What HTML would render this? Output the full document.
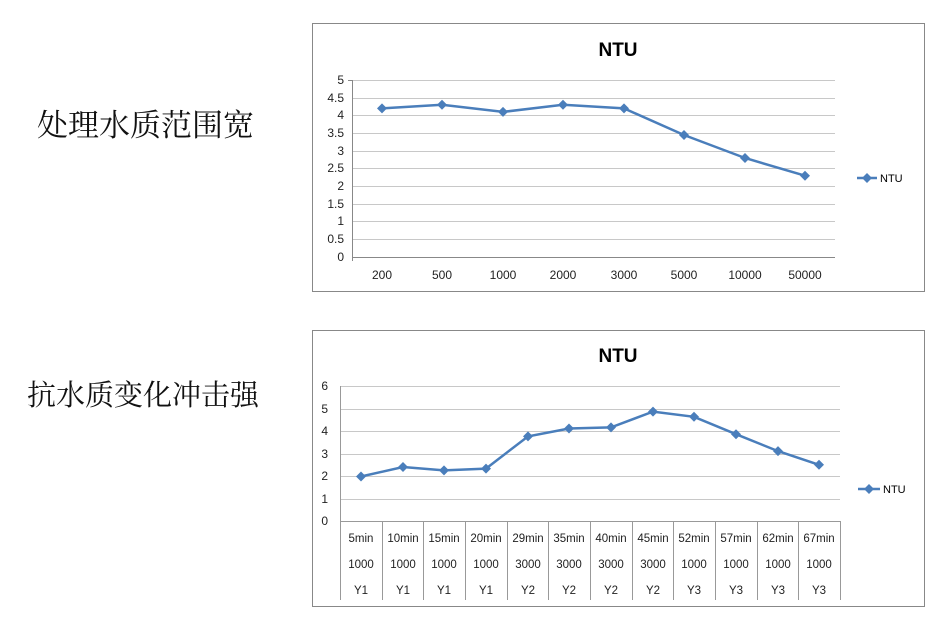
<!DOCTYPE html>
<html><head><meta charset="utf-8"><style>
body{margin:0;background:#fff;width:940px;height:620px;overflow:hidden;position:relative;font-family:"Liberation Sans","Noto Sans CJK SC",sans-serif}
.cn{position:absolute;font-family:"Noto Serif CJK SC","Noto Sans CJK SC",serif;color:#111;white-space:nowrap}
</style></head><body>
<div class="cn" style="left:37px;top:100px;font-size:31px">处理水质范围宽</div>
<div class="cn" style="left:27px;top:373px;font-size:29px">抗水质变化冲击强</div>
<svg width="940" height="620" style="position:absolute;left:0;top:0" font-family="Liberation Sans, sans-serif">
<defs><path id="d" d="M0,-5 L5,0 L0,5 L-5,0Z" fill="#4a7ebb"/></defs>
<rect x="312.5" y="23.5" width="612" height="268" fill="#fff" stroke="#888"/>
<text x="618" y="56" font-size="19" font-weight="bold" text-anchor="middle">NTU</text>
<g stroke="#c8c8c8" stroke-width="1">
<line x1="352" x2="835" y1="80.5" y2="80.5"/><line x1="352" x2="835" y1="98.5" y2="98.5"/><line x1="352" x2="835" y1="115.5" y2="115.5"/><line x1="352" x2="835" y1="133.5" y2="133.5"/><line x1="352" x2="835" y1="151.5" y2="151.5"/><line x1="352" x2="835" y1="168.5" y2="168.5"/><line x1="352" x2="835" y1="186.5" y2="186.5"/><line x1="352" x2="835" y1="204.5" y2="204.5"/><line x1="352" x2="835" y1="221.5" y2="221.5"/><line x1="352" x2="835" y1="239.5" y2="239.5"/>
</g>
<g stroke="#888"><line x1="352" x2="835" y1="257.5" y2="257.5"/><line x1="352.5" x2="352.5" y1="80" y2="261"/>
<line x1="348" x2="352" y1="80.5" y2="80.5"/>
</g>
<g font-size="12" text-anchor="end" fill="#222">
<text x="344" y="84">5</text><text x="344" y="102">4.5</text><text x="344" y="119">4</text><text x="344" y="137">3.5</text><text x="344" y="155">3</text><text x="344" y="172">2.5</text><text x="344" y="190">2</text><text x="344" y="208">1.5</text><text x="344" y="225">1</text><text x="344" y="243">0.5</text><text x="344" y="261">0</text>
</g>
<g font-size="12" text-anchor="middle" fill="#222">
<text x="382" y="279">200</text><text x="442" y="279">500</text><text x="503" y="279">1000</text><text x="563" y="279">2000</text><text x="624" y="279">3000</text><text x="684" y="279">5000</text><text x="745" y="279">10000</text><text x="805" y="279">50000</text>
</g>
<polyline fill="none" stroke="#4a7ebb" stroke-width="2.5" points="382,108.4 442,104.8 503,111.9 563,104.8 624,108.4 684,135 745,158 805,175.7"/>
<g><use href="#d" x="382" y="108.4"/><use href="#d" x="442" y="104.8"/><use href="#d" x="503" y="111.9"/><use href="#d" x="563" y="104.8"/><use href="#d" x="624" y="108.4"/><use href="#d" x="684" y="135"/><use href="#d" x="745" y="158"/><use href="#d" x="805" y="175.7"/></g>
<line x1="857" x2="877" y1="178" y2="178" stroke="#4a7ebb" stroke-width="2.5"/><use href="#d" x="867" y="178"/>
<text x="880" y="182" font-size="11">NTU</text>
<rect x="312.5" y="330.5" width="612" height="276" fill="#fff" stroke="#888"/>
<text x="618" y="362" font-size="19" font-weight="bold" text-anchor="middle">NTU</text>
<g stroke="#c8c8c8">
<line x1="340" x2="840" y1="386.5" y2="386.5"/><line x1="340" x2="840" y1="409.5" y2="409.5"/><line x1="340" x2="840" y1="431.5" y2="431.5"/><line x1="340" x2="840" y1="454.5" y2="454.5"/><line x1="340" x2="840" y1="476.5" y2="476.5"/><line x1="340" x2="840" y1="499.5" y2="499.5"/>
</g>
<g stroke="#999"><line x1="340" x2="840" y1="521.5" y2="521.5"/><line x1="340.5" x2="340.5" y1="386" y2="600"/>
<line x1="382.5" x2="382.5" y1="521" y2="600"/><line x1="423.5" x2="423.5" y1="521" y2="600"/><line x1="465.5" x2="465.5" y1="521" y2="600"/><line x1="507.5" x2="507.5" y1="521" y2="600"/><line x1="548.5" x2="548.5" y1="521" y2="600"/><line x1="590.5" x2="590.5" y1="521" y2="600"/><line x1="632.5" x2="632.5" y1="521" y2="600"/><line x1="673.5" x2="673.5" y1="521" y2="600"/><line x1="715.5" x2="715.5" y1="521" y2="600"/><line x1="757.5" x2="757.5" y1="521" y2="600"/><line x1="798.5" x2="798.5" y1="521" y2="600"/><line x1="840.5" x2="840.5" y1="521" y2="600"/>
</g>
<g font-size="12" text-anchor="end" fill="#222">
<text x="328" y="390">6</text><text x="328" y="413">5</text><text x="328" y="435">4</text><text x="328" y="458">3</text><text x="328" y="480">2</text><text x="328" y="503">1</text><text x="328" y="525">0</text>
</g>
<g font-size="11.5" text-anchor="middle" fill="#222">
<text y="542"><tspan x="361">5min</tspan><tspan x="403">10min</tspan><tspan x="444">15min</tspan><tspan x="486">20min</tspan><tspan x="528">29min</tspan><tspan x="569">35min</tspan><tspan x="611">40min</tspan><tspan x="653">45min</tspan><tspan x="694">52min</tspan><tspan x="736">57min</tspan><tspan x="778">62min</tspan><tspan x="819">67min</tspan></text>
<text y="568"><tspan x="361">1000</tspan><tspan x="403">1000</tspan><tspan x="444">1000</tspan><tspan x="486">1000</tspan><tspan x="528">3000</tspan><tspan x="569">3000</tspan><tspan x="611">3000</tspan><tspan x="653">3000</tspan><tspan x="694">1000</tspan><tspan x="736">1000</tspan><tspan x="778">1000</tspan><tspan x="819">1000</tspan></text>
<text y="594"><tspan x="361">Y1</tspan><tspan x="403">Y1</tspan><tspan x="444">Y1</tspan><tspan x="486">Y1</tspan><tspan x="528">Y2</tspan><tspan x="569">Y2</tspan><tspan x="611">Y2</tspan><tspan x="653">Y2</tspan><tspan x="694">Y3</tspan><tspan x="736">Y3</tspan><tspan x="778">Y3</tspan><tspan x="819">Y3</tspan></text>
</g>
<polyline fill="none" stroke="#4a7ebb" stroke-width="2.5" points="361,476.5 403,467 444,470.4 486,468.6 528,436.4 569,428.5 611,427.4 653,411.6 694,416.8 736,434.2 778,451.1 819,464.8"/>
<g><use href="#d" x="361" y="476.5"/><use href="#d" x="403" y="467"/><use href="#d" x="444" y="470.4"/><use href="#d" x="486" y="468.6"/><use href="#d" x="528" y="436.4"/><use href="#d" x="569" y="428.5"/><use href="#d" x="611" y="427.4"/><use href="#d" x="653" y="411.6"/><use href="#d" x="694" y="416.8"/><use href="#d" x="736" y="434.2"/><use href="#d" x="778" y="451.1"/><use href="#d" x="819" y="464.8"/></g>
<line x1="858" x2="880" y1="489" y2="489" stroke="#4a7ebb" stroke-width="2.5"/><use href="#d" x="869" y="489"/>
<text x="883" y="493" font-size="11">NTU</text>
</svg>
</body></html>
